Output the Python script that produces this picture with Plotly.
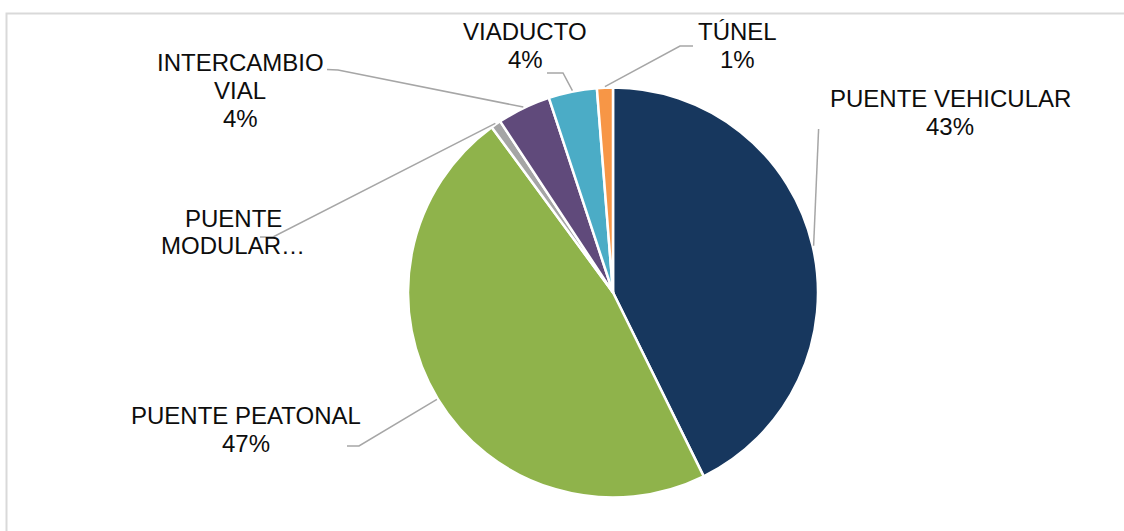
import math
import plotly.graph_objects as go

# ---- data ----
categories = ["PUENTE VEHICULAR", "PUENTE PEATONAL", "PUENTE MODULAR",
              "INTERCAMBIO VIAL", "VIADUCTO", "TÚNEL"]
values = [42.6, 47.1, 0.8, 4.2, 3.8, 1.25]
label_lines = [["PUENTE VEHICULAR"], ["PUENTE PEATONAL"], ["PUENTE", "MODULAR…"],
               ["INTERCAMBIO", "VIAL"], ["VIADUCTO"], ["TÚNEL"]]
show_pct = [True, True, False, True, True, True]
colors = ["#17375E", "#8FB34B", "#A5A5A5", "#604A7B", "#4BACC6", "#F79646"]

# ---- layout (pixels) ----
W, H = 1124, 531
CX, CY, R = 613, 292.5, 205
label_pos = [(950, 98), (245.5, 415), (233, 218), (240, 62), (525, 32), (737, 32)]
LINE_H = 28
leader_ends = [
    [(818.6, 129)],
    [(359, 446), (347, 446)],
    [(273, 237), (260, 237)],
    [(338, 70), (327, 69.5)],
    [(563, 73), (547, 73)],
    [(680, 46), (693, 46)],
]
FONT = "Liberation Sans, Arial, sans-serif"


def px(x, y):
    return x / W, 1 - y / H


fig = go.Figure()
fig.add_trace(go.Pie(
    labels=categories, values=values, sort=False, direction="clockwise",
    rotation=0, textinfo="none", showlegend=False,
    marker=dict(colors=colors, line=dict(color="white", width=2.5)),
    domain=dict(x=[(CX - R) / W, (CX + R) / W],
                y=[1 - (CY + R) / H, 1 - (CY - R) / H]),
))

total = sum(values)
annotations = []
shapes = []
cum = 0.0
for i, v in enumerate(values):
    mid = (cum + v / 2) / total * 2 * math.pi
    cum += v
    sx = CX + (R + 1) * math.sin(mid)
    sy = CY - (R + 1) * math.cos(mid)
    pts = [(sx, sy)] + leader_ends[i]
    path = "M " + " L ".join(f"{px(x, y)[0]},{px(x, y)[1]}" for x, y in pts)
    shapes.append(dict(type="path", path=path, xref="paper", yref="paper",
                       line=dict(color="#A6A6A6", width=1.5)))
    lines = list(label_lines[i])
    if show_pct[i]:
        lines.append(f"{round(v / total * 100)}%")
    lx, ly = label_pos[i]
    for k, t in enumerate(lines):
        ax, ay = px(lx, ly + k * LINE_H)
        annotations.append(dict(text=t, x=ax, y=ay, xref="paper", yref="paper",
                                xanchor="center", yanchor="middle", showarrow=False,
                                font=dict(family=FONT, size=24, color="#0D0D0D")))

# chart border
shapes.append(dict(type="rect", xref="paper", yref="paper",
                   x0=6.5 / W, y0=-0.1, x1=1.1, y1=1 - 13.5 / H,
                   line=dict(color="#D9D9D9", width=2), fillcolor="rgba(0,0,0,0)",
                   layer="below"))

fig.update_layout(
    width=W, height=H, margin=dict(l=0, r=0, t=0, b=0),
    paper_bgcolor="white", plot_bgcolor="white",
    annotations=annotations, shapes=shapes,
    font=dict(family=FONT),
)
fig.write_html(
    "out.html",
    config={"displayModeBar": False},
    post_script="document.body.style.margin='0';document.body.style.padding='0';"
                "document.body.style.overflow='hidden';",
)
